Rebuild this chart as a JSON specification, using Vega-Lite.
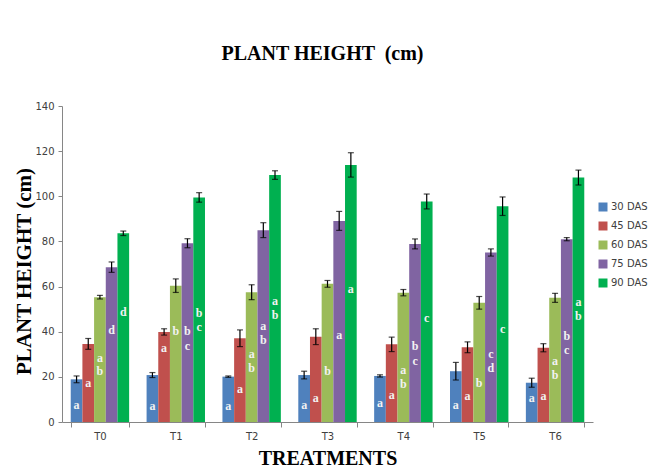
{
  "$schema": "https://vega.github.io/schema/vega-lite/v6.json",
  "width": 531,
  "height": 316,
  "autosize": {"type": "none"},
  "padding": {"left": 62, "top": 106, "right": 65, "bottom": 48},
  "background": "white",
  "title": {
    "text": "PLANT HEIGHT \u00a0(cm)",
    "font": "Liberation Serif",
    "fontSize": 20,
    "fontWeight": "bold",
    "color": "black",
    "anchor": "middle",
    "dx": -5,
    "offset": 37
  },
  "datasets": {
    "bars": [
      {"t": "T0", "s": "30 DAS", "v": 18.9, "e": 1.5},
      {"t": "T0", "s": "45 DAS", "v": 34.6, "e": 2.4},
      {"t": "T0", "s": "60 DAS", "v": 55.3, "e": 0.8},
      {"t": "T0", "s": "75 DAS", "v": 68.6, "e": 2.3},
      {"t": "T0", "s": "90 DAS", "v": 83.6, "e": 1.0},
      {"t": "T1", "s": "30 DAS", "v": 20.8, "e": 1.1},
      {"t": "T1", "s": "45 DAS", "v": 39.9, "e": 1.4},
      {"t": "T1", "s": "60 DAS", "v": 60.4, "e": 3.0},
      {"t": "T1", "s": "75 DAS", "v": 79.2, "e": 2.0},
      {"t": "T1", "s": "90 DAS", "v": 99.5, "e": 2.1},
      {"t": "T2", "s": "30 DAS", "v": 20.1, "e": 0.3},
      {"t": "T2", "s": "45 DAS", "v": 37.1, "e": 3.7},
      {"t": "T2", "s": "60 DAS", "v": 57.5, "e": 3.3},
      {"t": "T2", "s": "75 DAS", "v": 85.0, "e": 3.3},
      {"t": "T2", "s": "90 DAS", "v": 109.4, "e": 1.9},
      {"t": "T3", "s": "30 DAS", "v": 20.8, "e": 1.7},
      {"t": "T3", "s": "45 DAS", "v": 37.8, "e": 3.5},
      {"t": "T3", "s": "60 DAS", "v": 61.2, "e": 1.5},
      {"t": "T3", "s": "75 DAS", "v": 89.1, "e": 4.2},
      {"t": "T3", "s": "90 DAS", "v": 113.9, "e": 5.4},
      {"t": "T4", "s": "30 DAS", "v": 20.4, "e": 0.5},
      {"t": "T4", "s": "45 DAS", "v": 34.4, "e": 3.2},
      {"t": "T4", "s": "60 DAS", "v": 57.3, "e": 1.4},
      {"t": "T4", "s": "75 DAS", "v": 78.9, "e": 2.2},
      {"t": "T4", "s": "90 DAS", "v": 97.7, "e": 3.3},
      {"t": "T5", "s": "30 DAS", "v": 22.5, "e": 3.9},
      {"t": "T5", "s": "45 DAS", "v": 33.1, "e": 2.4},
      {"t": "T5", "s": "60 DAS", "v": 52.8, "e": 2.8},
      {"t": "T5", "s": "75 DAS", "v": 75.1, "e": 1.6},
      {"t": "T5", "s": "90 DAS", "v": 95.6, "e": 4.1},
      {"t": "T6", "s": "30 DAS", "v": 17.4, "e": 2.0},
      {"t": "T6", "s": "45 DAS", "v": 32.9, "e": 1.8},
      {"t": "T6", "s": "60 DAS", "v": 55.0, "e": 2.0},
      {"t": "T6", "s": "75 DAS", "v": 81.0, "e": 0.7},
      {"t": "T6", "s": "90 DAS", "v": 108.3, "e": 3.3}
    ],
    "letters": [
      {"t": "T0", "s": "30 DAS", "l": "a", "y": 7.5},
      {"t": "T0", "s": "45 DAS", "l": "a", "y": 17.4},
      {"t": "T0", "s": "60 DAS", "l": "a", "y": 28.4},
      {"t": "T0", "s": "60 DAS", "l": "b", "y": 22.4},
      {"t": "T0", "s": "75 DAS", "l": "d", "y": 40.8},
      {"t": "T0", "s": "90 DAS", "l": "d", "y": 48.6},
      {"t": "T1", "s": "30 DAS", "l": "a", "y": 7.1},
      {"t": "T1", "s": "45 DAS", "l": "a", "y": 32.7},
      {"t": "T1", "s": "60 DAS", "l": "b", "y": 40.3},
      {"t": "T1", "s": "75 DAS", "l": "b", "y": 40.3},
      {"t": "T1", "s": "75 DAS", "l": "c", "y": 33.8},
      {"t": "T1", "s": "90 DAS", "l": "b", "y": 48.5},
      {"t": "T1", "s": "90 DAS", "l": "c", "y": 42.3},
      {"t": "T2", "s": "30 DAS", "l": "a", "y": 7.1},
      {"t": "T2", "s": "45 DAS", "l": "a", "y": 14.6},
      {"t": "T2", "s": "60 DAS", "l": "a", "y": 30.2},
      {"t": "T2", "s": "60 DAS", "l": "b", "y": 24.1},
      {"t": "T2", "s": "75 DAS", "l": "a", "y": 42.4},
      {"t": "T2", "s": "75 DAS", "l": "b", "y": 36.3},
      {"t": "T2", "s": "90 DAS", "l": "a", "y": 53.6},
      {"t": "T2", "s": "90 DAS", "l": "b", "y": 47.6},
      {"t": "T3", "s": "30 DAS", "l": "a", "y": 7.5},
      {"t": "T3", "s": "45 DAS", "l": "a", "y": 10.6},
      {"t": "T3", "s": "60 DAS", "l": "b", "y": 22.8},
      {"t": "T3", "s": "75 DAS", "l": "a", "y": 38.6},
      {"t": "T3", "s": "90 DAS", "l": "a", "y": 58.8},
      {"t": "T4", "s": "30 DAS", "l": "a", "y": 8.6},
      {"t": "T4", "s": "45 DAS", "l": "a", "y": 12.0},
      {"t": "T4", "s": "60 DAS", "l": "a", "y": 23.2},
      {"t": "T4", "s": "60 DAS", "l": "b", "y": 17.0},
      {"t": "T4", "s": "75 DAS", "l": "b", "y": 33.5},
      {"t": "T4", "s": "75 DAS", "l": "c", "y": 27.1},
      {"t": "T4", "s": "90 DAS", "l": "c", "y": 46.0},
      {"t": "T5", "s": "30 DAS", "l": "a", "y": 7.4},
      {"t": "T5", "s": "45 DAS", "l": "a", "y": 11.5},
      {"t": "T5", "s": "60 DAS", "l": "b", "y": 17.4},
      {"t": "T5", "s": "75 DAS", "l": "c", "y": 30.2},
      {"t": "T5", "s": "75 DAS", "l": "d", "y": 24.1},
      {"t": "T5", "s": "90 DAS", "l": "c", "y": 41.1},
      {"t": "T6", "s": "30 DAS", "l": "a", "y": 10.5},
      {"t": "T6", "s": "45 DAS", "l": "a", "y": 11.5},
      {"t": "T6", "s": "60 DAS", "l": "a", "y": 27.1},
      {"t": "T6", "s": "60 DAS", "l": "b", "y": 20.7},
      {"t": "T6", "s": "75 DAS", "l": "b", "y": 38.2},
      {"t": "T6", "s": "75 DAS", "l": "c", "y": 32.1},
      {"t": "T6", "s": "90 DAS", "l": "a", "y": 53.0},
      {"t": "T6", "s": "90 DAS", "l": "b", "y": 46.9}
    ]
  },
  "encoding": {
    "x": {
      "field": "t",
      "type": "nominal",
      "sort": null,
      "scale": {"paddingInner": 0.23, "paddingOuter": 0.115},
      "axis": {
        "title": "TREATMENTS",
        "titleFont": "Liberation Serif",
        "titleFontSize": 20,
        "titleFontWeight": "bold",
        "titleColor": "black",
        "titleY": 42,
        "titleBaseline": "alphabetic",
        "labelAngle": 0,
        "labelFont": "DejaVu Sans",
        "labelFontSize": 10,
        "labelColor": "#404040",
        "labelPadding": 4,
        "tickBand": "extent",
        "tickSize": 5,
        "tickColor": "#868686",
        "domainColor": "#868686"
      }
    },
    "xOffset": {"field": "s", "type": "nominal", "sort": null}
  },
  "layer": [
    {
      "data": {"name": "bars"},
      "mark": {"type": "bar"},
      "encoding": {
        "y": {
          "field": "v",
          "type": "quantitative",
          "title": "PLANT HEIGHT (cm)",
          "scale": {"domain": [0, 140]},
          "axis": {
            "titleFont": "Liberation Serif",
            "titleFontSize": 21,
            "titleFontWeight": "bold",
            "titleColor": "black",
            "titleX": -38,
            "titleY": 165,
            "titleBaseline": "middle",
            "values": [0, 20, 40, 60, 80, 100, 120, 140],
            "grid": false,
            "labelFont": "DejaVu Sans",
            "labelFontSize": 10,
            "labelColor": "#404040",
            "labelPadding": 4,
            "tickSize": 4,
            "tickColor": "#868686",
            "domainColor": "#868686"
          }
        },
        "color": {
          "field": "s",
          "type": "nominal",
          "sort": null,
          "scale": {
            "domain": ["30 DAS", "45 DAS", "60 DAS", "75 DAS", "90 DAS"],
            "range": ["#4F81BD", "#C0504D", "#9BBB59", "#8064A2", "#00B050"]
          },
          "legend": {
            "title": null,
            "orient": "none",
            "legendX": 536,
            "legendY": 96,
            "padding": 0,
            "symbolType": "square",
            "symbolSize": 81,
            "symbolStrokeWidth": 0,
            "labelFont": "DejaVu Sans",
            "labelFontSize": 10,
            "labelColor": "#404040",
            "labelOffset": 3,
            "rowPadding": 9
          }
        }
      }
    },
    {
      "data": {"name": "bars"},
      "mark": {
        "type": "errorbar",
        "ticks": {"size": 6, "thickness": 1.2, "color": "black"},
        "rule": {"strokeWidth": 1.2, "color": "black"}
      },
      "encoding": {
        "y": {"field": "v", "type": "quantitative", "title": "PLANT HEIGHT (cm)"},
        "yError": {"field": "e"}
      }
    },
    {
      "data": {"name": "letters"},
      "mark": {
        "type": "text",
        "font": "Liberation Serif",
        "fontSize": 12,
        "fontWeight": "bold",
        "color": "#f2f2f2",
        "baseline": "middle",
        "align": "center"
      },
      "encoding": {
        "y": {"field": "y", "type": "quantitative", "title": "PLANT HEIGHT (cm)"},
        "text": {"field": "l"}
      }
    }
  ],
  "config": {
    "view": {"stroke": null}
  }
}
